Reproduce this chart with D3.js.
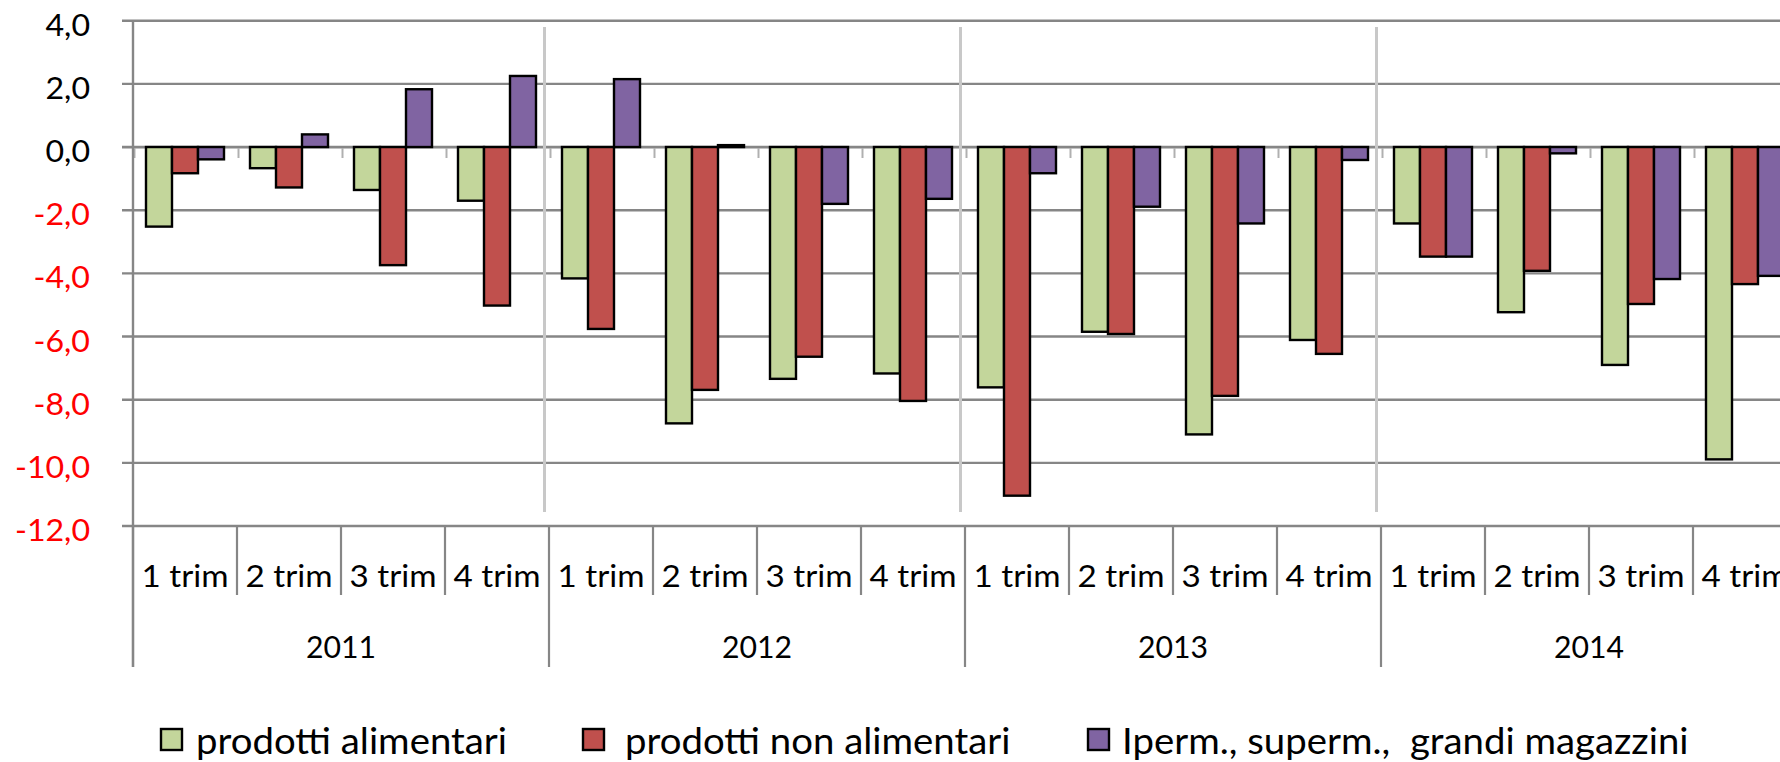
<!DOCTYPE html>
<html>
<head>
<meta charset="utf-8">
<script src="https://cdn.jsdelivr.net/npm/d3@7/dist/d3.min.js"></script>
<style>
  html, body { margin: 0; padding: 0; background: #fff; }
  svg { display: block; }
  text { font-family: Lato, "Open Sans", "Noto Sans", sans-serif; white-space: pre; }
</style>
</head>
<body>
<svg id="chart" width="1780" height="762"></svg>
<script>
const years = ["2011", "2012", "2013", "2014"];
const quarters = ["1 trim", "2 trim", "3 trim", "4 trim"];
const seriesNames = ["prodotti alimentari", "prodotti non alimentari", "Iperm., superm.,  grandi magazzini"];
const seriesColors = ["#C3D69B", "#C0504D", "#8064A2"];
const alimentari = [-2.52, -0.67, -1.36, -1.70, -4.16, -8.75, -7.34, -7.17, -7.61, -5.85, -9.10, -6.11, -2.42, -5.23, -6.90, -9.89];
const nonAlimentari = [-0.83, -1.28, -3.74, -5.02, -5.76, -7.69, -6.64, -8.04, -11.04, -5.92, -7.88, -6.55, -3.47, -3.92, -4.97, -4.34];
const iperm = [-0.39, 0.40, 1.83, 2.25, 2.15, 0.06, -1.80, -1.64, -0.83, -1.89, -2.42, -0.41, -3.47, -0.20, -4.18, -4.08];
const yTicks = [4, 2, 0, -2, -4, -6, -8, -10, -12];

const svg = d3.select("#chart");
const seriesValues = [alimentari, nonAlimentari, iperm];

const cats = [];
years.forEach(y => quarters.forEach(q => cats.push(y + "|" + q)));

const x0 = d3.scaleBand().domain(cats).range([133, 133 + 16 * 104]).paddingInner(0).paddingOuter(0);
const x1 = d3.scaleBand().domain([0, 1, 2]).range([0, x0.bandwidth()]).paddingInner(0).paddingOuter(0.5);
const y = d3.scaleLinear().domain([-12, 4]).range([526, 20.7]);

const loc = d3.formatLocale({decimal: ",", thousands: ".", grouping: [3], currency: ["", "€"], minus: "-"});
const fmt = loc.format(".1f");

const grid = "#868686";

// gridlines
svg.append("g").selectAll("line").data(yTicks).join("line")
  .attr("x1", 122).attr("x2", 1780)
  .attr("y1", d => y(d)).attr("y2", d => y(d))
  .attr("stroke", grid).attr("stroke-width", d => d === 0 ? 2.8 : 2.4);

// light year separator lines inside plot
svg.append("g").selectAll("line").data(years.slice(1)).join("line")
  .attr("x1", d => x0(d + "|1 trim") - 4.5).attr("x2", d => x0(d + "|1 trim") - 4.5)
  .attr("y1", 27).attr("y2", 512)
  .attr("stroke", "#c8c8c8").attr("stroke-width", 3);

// small tick marks below zero line at category boundaries
svg.append("g").selectAll("line").data(cats).join("line")
  .attr("x1", d => x0(d) + 1.5).attr("x2", d => x0(d) + 1.5)
  .attr("y1", y(0) + 1).attr("y2", y(0) + 11)
  .attr("stroke", "#b0b0b0").attr("stroke-width", 2);

// bars
const gBars = svg.append("g");
seriesValues.forEach((vals, si) => {
  gBars.append("g").selectAll("rect").data(vals).join("rect")
    .attr("x", (d, i) => x0(cats[i]) + x1(si))
    .attr("width", x1.bandwidth())
    .attr("y", d => y(Math.max(0, d)))
    .attr("height", d => Math.abs(y(d) - y(0)))
    .attr("fill", seriesColors[si])
    .attr("stroke", "#000").attr("stroke-width", 2.4);
});

// y axis line
svg.append("line").attr("x1", 133).attr("x2", 133).attr("y1", y(4)).attr("y2", 667)
  .attr("stroke", grid).attr("stroke-width", 2.4);

// category dividers below
svg.append("g").selectAll("line").data(cats).join("line")
  .attr("x1", d => x0(d)).attr("x2", d => x0(d))
  .attr("y1", y(-12)).attr("y2", d => d.endsWith("|1 trim") ? 667 : 595)
  .attr("stroke", grid).attr("stroke-width", 2.2);

function stretch(sel, refText, target) {
  let ref = null;
  sel.each(function() { if (this.textContent === refText) ref = this; });
  const sx = target / ref.getComputedTextLength();
  sel.each(function() {
    const w = this.getComputedTextLength();
    d3.select(this).attr("textLength", w * sx).attr("lengthAdjust", "spacingAndGlyphs");
  });
}

// y labels
const yl = svg.append("g").selectAll("text").data(yTicks).join("text")
  .attr("x", 90).attr("y", d => y(d) + 15)
  .attr("text-anchor", "end")
  .attr("font-size", 30)
  .attr("fill", d => d < 0 ? "#FF0000" : "#000")
  .text(d => fmt(d));
stretch(yl, "-12,0", 75);

// quarter labels
const ql = svg.append("g").selectAll("text").data(cats).join("text")
  .attr("x", d => x0(d) + x0.bandwidth() / 2).attr("y", 587)
  .attr("text-anchor", "middle").attr("font-size", 31).attr("fill", "#000")
  .text(d => d.split("|")[1]);
stretch(ql, "1 trim", 87);

// year labels
const yrl = svg.append("g").selectAll("text").data(years).join("text")
  .attr("x", d => x0(d + "|1 trim") + 2 * x0.bandwidth()).attr("y", 658)
  .attr("text-anchor", "middle").attr("font-size", 31).attr("fill", "#000")
  .text(d => d);
stretch(yrl, "2011", 70);

// legend
const legX = [160, 582, 1087];
const legTextX = [196, 625, 1122];
const lg = svg.append("g");
lg.selectAll("rect").data(seriesNames).join("rect")
  .attr("x", (d, i) => legX[i] + 1).attr("y", 729)
  .attr("width", 21).attr("height", 21)
  .attr("fill", (d, i) => seriesColors[i]).attr("stroke", "#000").attr("stroke-width", 2.4);
const lt = lg.selectAll("text").data(seriesNames).join("text")
  .attr("x", (d, i) => legTextX[i]).attr("y", 754)
  .attr("font-size", 37).attr("fill", "#000")
  .text(d => d);
stretch(lt, "prodotti alimentari", 311);
</script>
</body>
</html>
